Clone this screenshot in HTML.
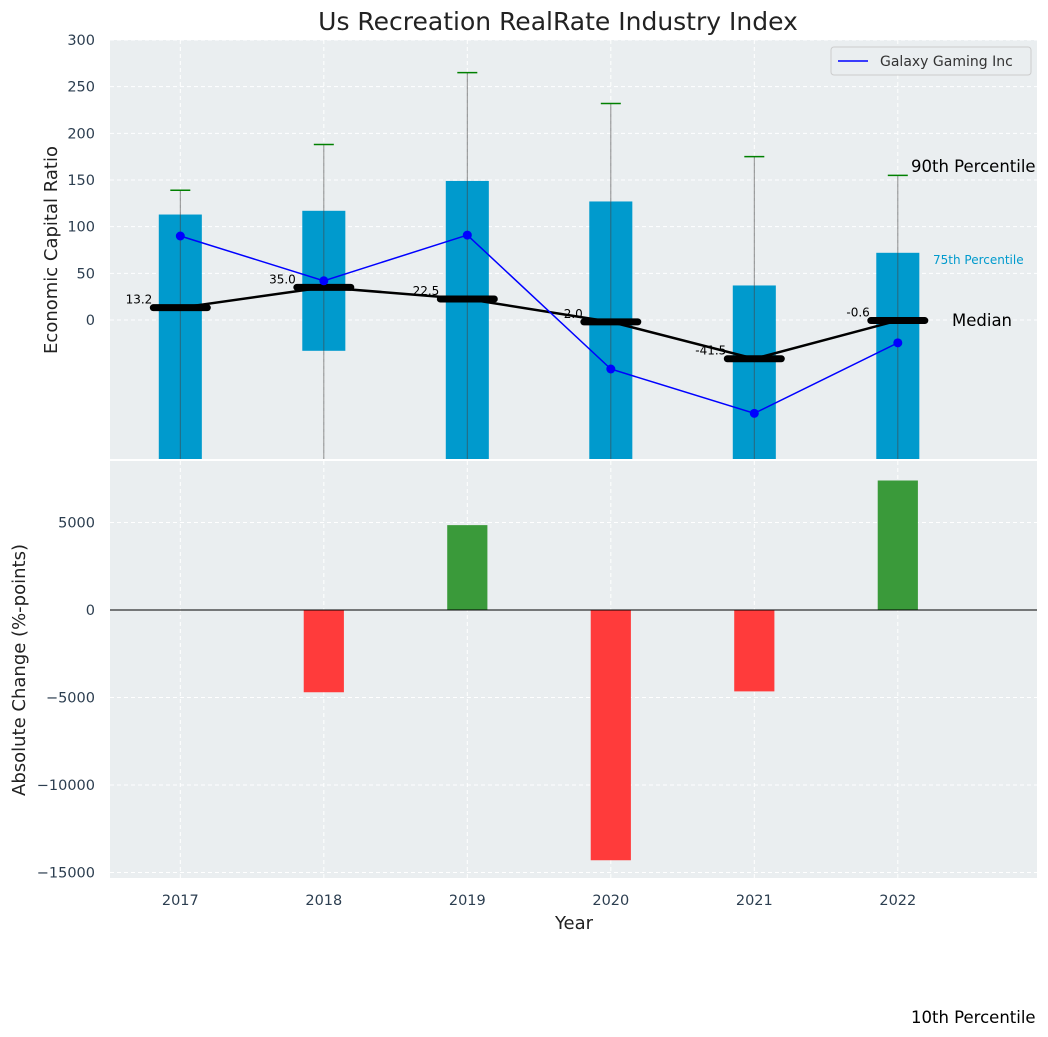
<!DOCTYPE html>
<html><head><meta charset="utf-8">
<style>
body{margin:0;background:#fff;}
svg{display:block;font-family:"DejaVu Sans","Liberation Sans",sans-serif;}
</style></head>
<body>
<svg id="chart" width="1048" height="1037" viewBox="0 0 1048 1037">
</svg>
<script>
const years=[2017,2018,2019,2020,2021,2022];
const p25=[-160,-33,-160,-160,-160,-160];
const p75=[113,117,149,127,37,72];
const p90=[139,188,265,232,175,155];
const medians=[13.2,35.0,22.5,-2.0,-41.5,-0.6];
const galaxy=[90,42,91,-52.5,-100,-24.5];
const changes=[0,-4700,4850,-14300,-4650,7400];
const topTicks=[0,50,100,150,200,250,300];
const botTicks=[-15000,-10000,-5000,0,5000];

const NS="http://www.w3.org/2000/svg";
const svg=document.getElementById('chart');
function el(tag,attrs,parent,text){const e=document.createElementNS(NS,tag);for(const k in attrs)e.setAttribute(k,attrs[k]);if(text!==undefined)e.textContent=text;(parent||svg).appendChild(e);return e;}
const PL=110,PR=1037,TT=40,TB=459,BT=461,BB=878;
const x=v=>PL+(v-2016.51)/(2022.97-2016.51)*(PR-PL);
const yt=v=>320-v*(280/300);
const yb=v=>610-v*(87.5/5000);

let e;
e=el('rect',{x:PL,y:TT,width:PR-PL,height:TB-TT,fill:'#eaeef0'});

e=el('rect',{x:PL,y:BT,width:PR-PL,height:BB-BT,fill:'#eaeef0'});


topTicks.forEach(t=>{el('line',{x1:PL,x2:PR,y1:yt(t),y2:yt(t),stroke:'#fff','stroke-dasharray':'4,3','stroke-width':1});
 e=el('text',{x:95,y:yt(t)+5,'text-anchor':'end','font-size':14.5,fill:'#2c3e50'},svg,String(t));
 });
botTicks.forEach(t=>{el('line',{x1:PL,x2:PR,y1:yb(t),y2:yb(t),stroke:'#fff','stroke-dasharray':'4,3','stroke-width':1});
 e=el('text',{x:95,y:yb(t)+5,'text-anchor':'end','font-size':14.5,fill:'#2c3e50'},svg,String(t).replace('-','\u2212'));
 });
years.forEach(yr=>{[ [TT,TB],[BT,BB] ].forEach(r=>el('line',{x1:x(yr),x2:x(yr),y1:r[0],y2:r[1],stroke:'#fff','stroke-dasharray':'4,3'}));
 e=el('text',{x:x(yr),y:905,'text-anchor':'middle','font-size':14.5,fill:'#2c3e50'},svg,String(yr));
 });

const defs=el('defs',{});const cp=el('clipPath',{id:'ct'},defs);el('rect',{x:PL,y:TT,width:PR-PL,height:TB-TT},cp);
const g=el('g',{'clip-path':'url(#ct)'});
const hw=(x(2017.15)-x(2017));
years.forEach((yr,i)=>{
 e=el('rect',{x:x(yr)-hw,y:yt(p75[i]),width:2*hw,height:yt(p25[i])-yt(p75[i]),fill:'#009acd'},g);
 
 e=el('line',{x1:x(yr),x2:x(yr),y1:yt(p90[i]),y2:TB+10,stroke:'#444','stroke-opacity':0.6,'stroke-width':1},g);
 
 e=el('line',{x1:x(yr)-10,x2:x(yr)+10,y1:yt(p90[i]),y2:yt(p90[i]),stroke:'green','stroke-width':1.5},g);
 
});
e=el('polyline',{points:years.map((yr,i)=>x(yr)+','+yt(medians[i])).join(' '),fill:'none',stroke:'#000','stroke-width':2.5},g);

years.forEach((yr,i)=>{
 e=el('line',{x1:x(yr)-27,x2:x(yr)+27,y1:yt(medians[i]),y2:yt(medians[i]),stroke:'#000','stroke-width':7,'stroke-linecap':'round'},g);
 
 e=el('text',{x:x(yr)-28,y:yt(medians[i])-4,'text-anchor':'end','font-size':12,fill:'#000'},g,medians[i].toFixed(1));
 
});
e=el('polyline',{points:years.map((yr,i)=>x(yr)+','+yt(galaxy[i])).join(' '),fill:'none',stroke:'blue','stroke-width':1.5},g);

years.forEach((yr,i)=>{e=el('circle',{cx:x(yr),cy:yt(galaxy[i]),r:4.5,fill:'blue'},g);
 });

const bw=x(2017.14)-x(2017);
years.forEach((yr,i)=>{const v=changes[i];if(v===0)return;
 e=el('rect',{x:x(yr)-bw,y:Math.min(yb(v),yb(0)),width:2*bw,height:Math.abs(yb(v)-yb(0)),fill:v>0?'#3a9a3a':'#ff3b3b'});
 });
e=el('line',{x1:PL,x2:PR,y1:yb(0),y2:yb(0),stroke:'#000','stroke-width':1});


e=el('text',{x:558,y:30,'text-anchor':'middle','font-size':25,fill:'#222'},svg,'Us Recreation RealRate Industry Index');

e=el('text',{x:0,y:0,'text-anchor':'middle','font-size':18,fill:'#222',transform:'translate(57,250) rotate(-90)'},svg,'Economic Capital Ratio');

e=el('text',{x:0,y:0,'text-anchor':'middle','font-size':18,fill:'#222',transform:'translate(25,670) rotate(-90)'},svg,'Absolute Change (%-points)');

e=el('text',{x:574,y:929,'text-anchor':'middle','font-size':18,fill:'#222'},svg,'Year');


e=el('text',{x:911,y:172,'font-size':16.5,fill:'#000'},svg,'90th Percentile');

e=el('text',{x:933,y:264,'font-size':12,fill:'#009acd'},svg,'75th Percentile');

e=el('text',{x:952,y:326,'font-size':16.5,fill:'#000'},svg,'Median');

e=el('text',{x:911,y:1023,'font-size':16.5,fill:'#000'},svg,'10th Percentile');


const lg=el('g',{});

el('rect',{x:831,y:47,width:200,height:28,rx:3,fill:'#eaeef0',stroke:'#ccc'},lg);
el('line',{x1:838,x2:868,y1:61,y2:61,stroke:'blue','stroke-width':1.5},lg);
e=el('text',{x:880,y:66,'font-size':14,fill:'#333'},lg,'Galaxy Gaming Inc');

</script>
</body></html>
